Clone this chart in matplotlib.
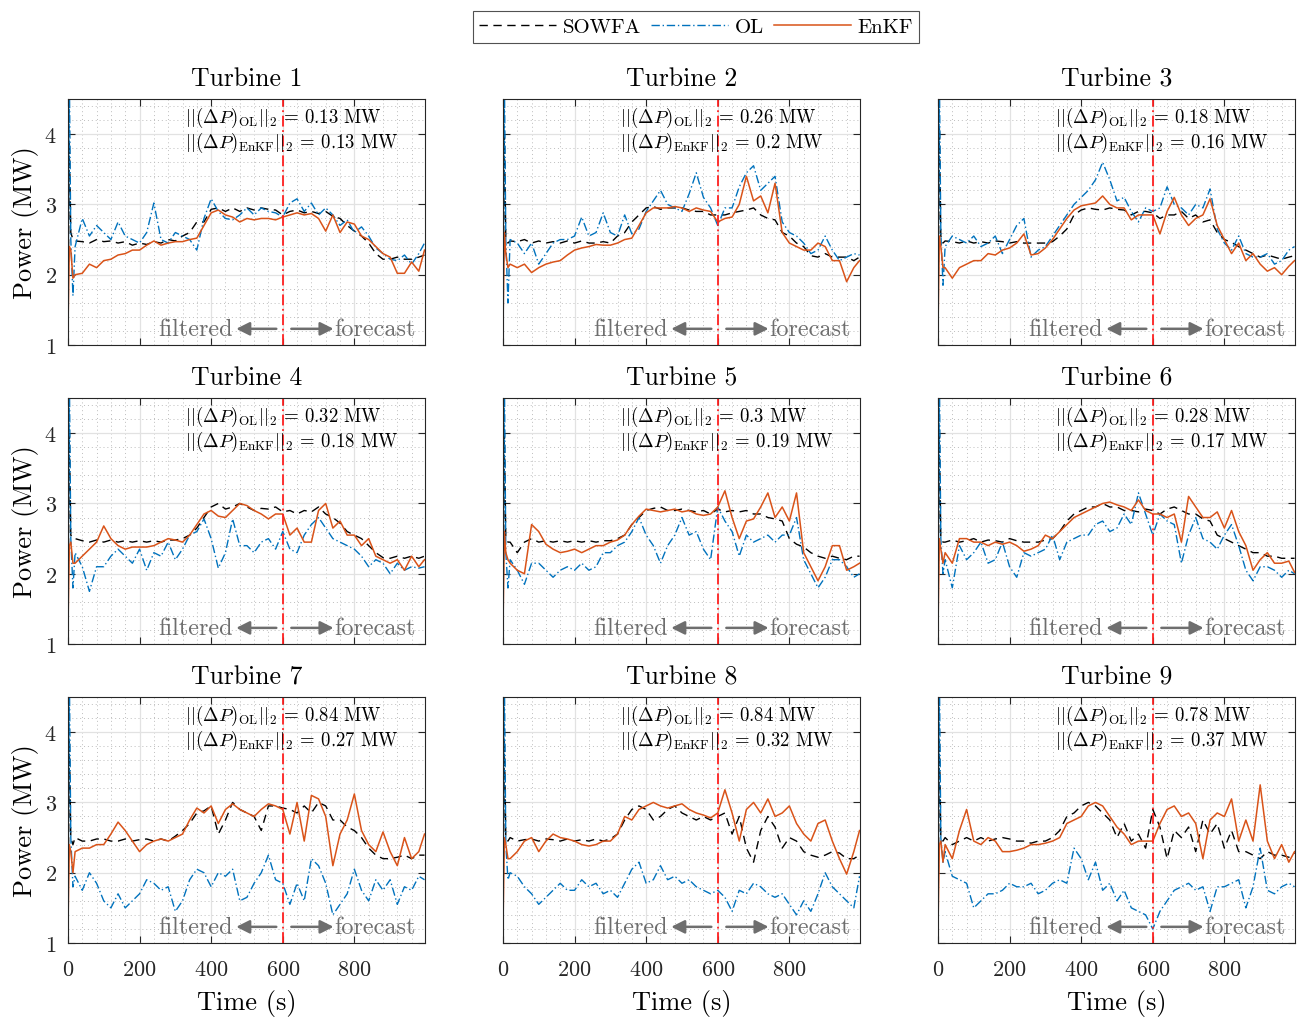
import matplotlib
matplotlib.use("Agg")
import matplotlib.pyplot as plt

plt.rcParams["font.family"] = "serif"
plt.rcParams["font.serif"] = ["cmr10"]
plt.rcParams["mathtext.fontset"] = "cm"
plt.rcParams["axes.formatter.use_mathtext"] = True

# time grid (s)
t = [0, 4, 8, 14,
     20, 40, 60, 80, 100, 120, 140, 160, 180,
     200, 220, 240, 260, 280, 300, 320, 340, 360, 380,
     400, 420, 440, 460, 480, 500, 520, 540, 560, 580,
     600, 620, 640, 660, 680, 700, 720, 740, 760, 780,
     800, 820, 840, 860, 880, 900, 920, 940, 960, 980,
     996]

# ---- Turbine 1
sowfa_1 = [1.2, 3.9, 2.6, 2.5,
           2.48, 2.47, 2.45, 2.5, 2.47, 2.48, 2.45, 2.47, 2.42,
           2.45, 2.43, 2.47, 2.45, 2.5, 2.48, 2.55, 2.6, 2.75, 2.75,
           2.93, 2.95, 2.9, 2.95, 2.9, 2.95, 2.92, 2.95, 2.93, 2.92,
           2.85, 2.9, 2.92, 2.88, 2.9, 2.87, 2.9, 2.83, 2.8, 2.7,
           2.62, 2.55, 2.45, 2.3, 2.22, 2.22, 2.25, 2.22, 2.22, 2.25,
           2.28]
ol_1 = [1.2, 4.8, 2.5, 1.7,
        2.4, 2.8, 2.55, 2.7, 2.6, 2.5, 2.75, 2.55, 2.5,
        2.45, 2.6, 3.02, 2.5, 2.45, 2.6, 2.55, 2.5, 2.35, 2.8,
        3.08, 2.9, 2.8, 2.78, 2.85, 2.95, 2.85, 2.95, 2.9, 2.88,
        2.82, 3.02, 3.08, 2.9, 3.02, 2.85, 2.95, 2.85, 2.7, 2.78,
        2.6, 2.68, 2.55, 2.38, 2.3, 2.22, 2.2, 2.28, 2.15, 2.3,
        2.45]
enkf_1 = [1.2, 2.4, 2.35, 1.95,
          2.0, 2.02, 2.15, 2.1, 2.2, 2.22, 2.28, 2.3, 2.35,
          2.35, 2.42, 2.48, 2.42, 2.45, 2.47, 2.47, 2.5, 2.52, 2.7,
          2.88, 2.92, 2.85, 2.82, 2.75, 2.8, 2.78, 2.8, 2.8, 2.78,
          2.82, 2.85, 2.88, 2.85, 2.87, 2.8, 2.62, 2.85, 2.6, 2.75,
          2.72, 2.55, 2.5, 2.4, 2.3, 2.25, 2.02, 2.02, 2.18, 2.05,
          2.35]

# ---- Turbine 2
sowfa_2 = [1.2, 4.0, 2.5, 2.45,
           2.48, 2.47, 2.5, 2.45, 2.48, 2.45, 2.47, 2.45, 2.48,
           2.45, 2.48, 2.45, 2.45, 2.47, 2.45, 2.55, 2.6, 2.75, 2.85,
           2.95, 2.97, 2.93, 2.95, 2.95, 2.95, 2.92, 2.9, 2.9, 2.85,
           2.85, 2.85, 2.88, 2.9, 2.92, 2.95, 2.85, 2.8, 2.78, 2.6,
           2.55, 2.45, 2.4, 2.27, 2.25, 2.3, 2.25, 2.25, 2.25, 2.2,
           2.25]
ol_2 = [1.2, 4.8, 2.5, 1.6,
        2.5, 2.45, 2.3, 2.45, 2.15, 2.3, 2.45, 2.5, 2.5,
        2.55, 2.82, 2.55, 2.6, 2.88, 2.6, 2.55, 2.85, 2.58, 2.65,
        2.9, 3.05, 3.2, 3.0, 2.95, 2.9, 3.15, 3.45, 3.1, 2.95,
        2.7, 2.95, 2.95, 3.25, 3.45, 3.55, 3.2, 3.3, 3.4, 2.75,
        2.6, 2.55, 2.45, 2.3, 2.35, 2.55, 2.35, 2.2, 2.25, 2.3,
        2.28]
enkf_2 = [1.2, 2.6, 2.3, 2.1,
          2.15, 2.1, 2.15, 2.03, 2.1, 2.15, 2.18, 2.2, 2.28,
          2.35, 2.38, 2.4, 2.43, 2.42, 2.42, 2.45, 2.5, 2.52, 2.7,
          2.88, 2.95, 2.95, 2.95, 2.97, 2.95, 2.9, 2.95, 2.92, 2.9,
          2.75, 2.8, 2.82, 3.0, 3.4, 3.05, 3.12, 2.88, 3.3, 2.6,
          2.45, 2.4, 2.35, 2.35, 2.45, 2.4, 2.2, 2.2, 1.9, 2.1,
          2.2]

# ---- Turbine 3
sowfa_3 = [1.2, 4.1, 2.55, 2.45,
           2.48, 2.47, 2.45, 2.48, 2.45, 2.47, 2.45, 2.48, 2.47,
           2.45, 2.47, 2.45, 2.45, 2.45, 2.45, 2.47, 2.55, 2.65, 2.85,
           2.92, 2.95, 2.93, 2.92, 2.95, 2.93, 2.92, 2.85, 2.9, 2.9,
           2.88, 2.8, 2.85, 2.85, 2.9, 2.8, 2.85, 2.75, 2.78, 2.6,
           2.5, 2.46, 2.4, 2.35, 2.3, 2.25, 2.28, 2.25, 2.22, 2.25,
           2.27]
ol_3 = [1.2, 4.8, 2.6, 1.85,
        2.4, 2.55, 2.5, 2.45, 2.55, 2.4, 2.45, 2.55, 2.3,
        2.5, 2.7, 2.8, 2.25, 2.35, 2.4, 2.55, 2.7, 2.85, 3.0,
        3.1, 3.2, 3.35, 3.6, 3.35, 3.05, 3.1, 2.9, 2.75, 2.95,
        2.9, 2.95, 3.25, 3.0, 2.95, 2.85, 3.0, 2.95, 3.22, 2.65,
        2.45, 2.35, 2.55, 2.3, 2.25, 2.25, 2.3, 2.15, 2.2, 2.35,
        2.4]
enkf_3 = [1.2, 2.55, 2.4, 2.1,
          2.1, 1.95, 2.1, 2.15, 2.2, 2.2, 2.3, 2.28, 2.35,
          2.38, 2.45, 2.58, 2.28, 2.3, 2.38, 2.5, 2.65, 2.8, 2.92,
          2.98, 3.0, 3.02, 3.12, 3.0, 2.95, 2.95, 2.78, 2.85, 2.85,
          2.85, 2.58, 2.9, 3.1, 2.85, 2.7, 2.8, 2.85, 3.08, 2.7,
          2.5, 2.3, 2.45, 2.2, 2.3, 2.15, 2.05, 2.1, 2.0, 2.12,
          2.2]

# ---- Turbine 4
sowfa_4 = [1.2, 4.0, 2.55, 2.5,
           2.5, 2.47, 2.45, 2.48, 2.45, 2.48, 2.45, 2.47, 2.45,
           2.47, 2.45, 2.47, 2.45, 2.48, 2.48, 2.5, 2.55, 2.65, 2.8,
           2.95, 3.0, 2.92, 2.95, 3.0, 2.95, 2.9, 2.93, 2.92, 2.95,
           2.88, 2.9, 2.85, 2.9, 2.88, 2.95, 2.85, 2.8, 2.72, 2.6,
           2.55, 2.5, 2.4, 2.3, 2.23, 2.22, 2.25, 2.22, 2.25, 2.22,
           2.25]
ol_4 = [1.2, 4.8, 2.5, 1.8,
        2.3, 2.1, 1.75, 2.1, 2.1, 2.25, 2.35, 2.25, 2.15,
        2.35, 2.05, 2.3, 2.25, 2.45, 2.2, 2.35, 2.55, 2.6, 2.78,
        2.5, 2.08, 2.3, 2.78, 2.4, 2.4, 2.3, 2.45, 2.5, 2.35,
        2.6, 2.35, 2.3, 2.55, 2.7, 2.8, 2.65, 2.5, 2.45, 2.4,
        2.35, 2.25, 2.1, 2.2, 2.15, 2.0, 2.15, 2.05, 2.1, 2.08,
        2.1]
enkf_4 = [1.2, 2.4, 2.45, 2.15,
          2.15, 2.25, 2.35, 2.45, 2.68, 2.5, 2.4, 2.35, 2.38,
          2.38, 2.38, 2.4, 2.45, 2.5, 2.48, 2.45, 2.55, 2.7, 2.85,
          2.9, 2.82, 2.8, 2.9, 3.0, 2.97, 2.9, 2.85, 2.78, 2.85,
          2.85, 2.55, 2.65, 2.45, 2.45, 2.9, 3.0, 2.65, 2.75, 2.55,
          2.55, 2.4, 2.5, 2.25, 2.2, 2.15, 2.2, 2.05, 2.25, 2.1,
          2.2]

# ---- Turbine 5
sowfa_5 = [1.2, 4.0, 2.5, 2.45,
           2.45, 2.3, 2.45, 2.5, 2.45, 2.47, 2.45, 2.47, 2.45,
           2.47, 2.45, 2.47, 2.45, 2.47, 2.47, 2.5, 2.55, 2.7, 2.8,
           2.9, 2.93, 2.95, 2.9, 2.9, 2.92, 2.9, 2.88, 2.9, 2.85,
           2.92, 2.88, 2.9, 2.88, 2.9, 2.85, 2.85, 2.8, 2.78, 2.75,
           2.5, 2.42, 2.38, 2.3, 2.25, 2.22, 2.25, 2.22, 2.2, 2.25,
           2.25]
ol_5 = [1.2, 4.8, 2.3, 1.8,
        2.2, 2.05, 1.85, 2.15, 2.15, 2.05, 1.95, 2.05, 2.1,
        2.05, 2.15, 2.05, 2.1, 2.3, 2.3, 2.4, 2.45, 2.6, 2.8,
        2.55, 2.4, 2.15, 2.4, 2.55, 2.8, 2.55, 2.6, 2.35, 2.2,
        2.95, 2.75, 2.6, 2.25, 2.55, 2.45, 2.5, 2.55, 2.45, 2.55,
        2.55, 2.8, 2.2, 2.0, 1.8, 1.95, 2.2, 2.2, 2.1, 1.95,
        2.0]
enkf_5 = [1.2, 2.6, 2.3, 2.2,
          2.15, 2.05, 2.0, 2.7, 2.6, 2.42, 2.35, 2.3, 2.32,
          2.35, 2.3, 2.35, 2.4, 2.4, 2.45, 2.48, 2.55, 2.7, 2.82,
          2.92, 2.9, 2.88, 2.9, 2.92, 2.88, 2.9, 2.85, 2.83, 2.85,
          2.95, 3.18, 2.8, 2.5, 2.75, 2.78, 2.95, 3.15, 2.8, 2.95,
          2.75, 3.15, 2.3, 2.1, 1.9, 2.1, 2.4, 2.4, 2.05, 2.1,
          2.15]

# ---- Turbine 6
sowfa_6 = [1.2, 4.0, 2.5, 2.45,
           2.45, 2.48, 2.45, 2.47, 2.5, 2.45, 2.48, 2.47, 2.45,
           2.5, 2.47, 2.45, 2.45, 2.45, 2.48, 2.5, 2.6, 2.75, 2.85,
           2.9, 2.95, 2.95, 3.0, 2.95, 2.95, 2.9, 2.9, 2.88, 2.92,
           2.9, 2.85, 2.92, 2.95, 2.9, 2.85, 2.85, 2.78, 2.75, 2.55,
           2.5, 2.45, 2.4, 2.35, 2.3, 2.3, 2.25, 2.25, 2.22, 2.22,
           2.22]
ol_6 = [1.2, 4.8, 2.5, 2.0,
        2.2, 1.8, 2.4, 2.2, 2.3, 2.45, 2.15, 2.2, 2.45,
        2.1, 1.95, 2.3, 2.25, 2.3, 2.35, 2.55, 2.2, 2.45, 2.5,
        2.55, 2.55, 2.7, 2.75, 2.6, 2.65, 2.85, 2.7, 3.15, 2.85,
        2.55, 2.85, 2.75, 2.7, 2.15, 2.55, 2.8, 2.5, 2.45, 2.35,
        2.55, 2.7, 2.4, 2.05, 1.9, 2.1, 2.1, 2.05, 1.95, 2.05,
        2.0]
enkf_6 = [1.2, 2.5, 2.35, 2.15,
          2.3, 2.15, 2.5, 2.5, 2.45, 2.45, 2.4, 2.45, 2.42,
          2.45, 2.4, 2.32, 2.35, 2.4, 2.55, 2.5, 2.6, 2.7, 2.8,
          2.85, 2.9, 2.95, 3.0, 3.02, 2.98, 2.95, 2.9, 3.05, 2.9,
          2.85, 2.85, 2.8, 2.85, 2.45, 3.1, 2.95, 2.8, 2.8, 2.88,
          2.65, 2.9, 2.6, 2.4, 2.05, 2.2, 2.3, 2.15, 2.15, 2.18,
          2.02]

# ---- Turbine 7
sowfa_7 = [1.2, 3.9, 2.5, 2.4,
           2.5, 2.45, 2.45, 2.48, 2.48, 2.45, 2.45, 2.48, 2.45,
           2.47, 2.48, 2.45, 2.48, 2.45, 2.52, 2.6, 2.7, 2.85, 2.88,
           2.95, 2.55, 2.75, 3.0, 2.9, 2.85, 2.8, 2.6, 2.95, 2.95,
           2.92, 2.9, 2.85, 2.95, 2.85, 3.0, 2.95, 2.75, 2.75, 2.65,
           2.6, 2.5, 2.35, 2.25, 2.2, 2.2, 2.22, 2.25, 2.2, 2.25,
           2.25]
ol_7 = [1.2, 4.8, 2.5, 1.8,
        1.95, 1.75, 2.0, 1.85, 1.6, 1.5, 1.7, 1.5, 1.6,
        1.7, 1.9, 1.85, 1.75, 1.8, 1.45, 1.6, 1.9, 2.05, 2.0,
        1.8, 2.0, 1.95, 2.05, 1.6, 1.65, 1.85, 2.0, 2.25, 1.9,
        1.85, 1.55, 1.85, 1.6, 2.2, 2.1, 1.85, 1.4, 1.55, 1.7,
        2.05, 1.75, 1.6, 1.9, 1.75, 1.9, 1.55, 1.8, 1.75, 1.95,
        1.9]
enkf_7 = [1.2, 2.4, 2.3, 2.0,
          2.3, 2.35, 2.35, 2.4, 2.4, 2.55, 2.72, 2.6, 2.45,
          2.3, 2.4, 2.45, 2.48, 2.45, 2.5, 2.55, 2.75, 2.92, 2.85,
          2.95, 2.7, 2.9, 2.98, 2.9, 2.85, 2.8, 2.9, 2.98, 2.95,
          2.9, 2.55, 3.0, 2.45, 3.1, 3.05, 2.8, 2.1, 2.55, 2.75,
          3.12, 2.6, 2.4, 2.3, 2.58, 2.3, 2.1, 2.5, 2.2, 2.3,
          2.55]

# ---- Turbine 8
sowfa_8 = [1.2, 3.9, 2.5, 2.45,
           2.5, 2.45, 2.47, 2.48, 2.45, 2.48, 2.47, 2.45, 2.48,
           2.45, 2.47, 2.45, 2.48, 2.45, 2.48, 2.55, 2.75, 2.9, 2.95,
           2.9, 2.75, 2.8, 2.9, 2.95, 2.85, 2.8, 2.75, 2.8, 2.75,
           2.8, 2.85, 2.55, 2.8, 2.35, 2.15, 2.6, 2.8, 2.65, 2.35,
           2.5, 2.45, 2.3, 2.25, 2.22, 2.25, 2.3, 2.28, 2.2, 2.2,
           2.25]
ol_8 = [1.2, 4.8, 2.4, 1.9,
        2.0, 1.95, 1.8, 1.7, 1.55, 1.65, 1.75, 1.85, 1.75,
        1.75, 1.9, 1.8, 1.85, 1.7, 1.75, 1.65, 1.85, 2.05, 2.15,
        1.85, 1.9, 2.1, 1.9, 1.95, 1.85, 1.9, 1.8, 1.75, 1.7,
        1.75, 1.65, 1.45, 1.75, 1.7, 1.85, 1.8, 1.7, 1.65, 1.7,
        1.55, 1.4, 1.6, 1.45, 1.7, 2.0, 1.8, 1.7, 1.6, 1.5,
        1.95]
enkf_8 = [1.2, 2.5, 2.4, 2.2,
          2.2, 2.3, 2.45, 2.5, 2.3, 2.45, 2.55, 2.5, 2.48,
          2.45, 2.4, 2.38, 2.4, 2.45, 2.45, 2.55, 2.8, 2.75, 2.9,
          2.95, 3.0, 2.95, 2.92, 2.95, 2.98, 2.9, 2.85, 2.82, 2.78,
          2.85, 3.18, 2.85, 2.45, 2.9, 3.0, 2.85, 3.05, 2.8, 2.85,
          2.95, 2.7, 2.55, 2.45, 2.7, 2.75, 2.45, 2.2, 1.98, 2.3,
          2.6]

# ---- Turbine 9
sowfa_9 = [1.2, 3.9, 2.5, 2.45,
           2.5, 2.4, 2.45, 2.5, 2.45, 2.5, 2.45, 2.48, 2.5,
           2.48, 2.45, 2.45, 2.42, 2.45, 2.45, 2.5, 2.6, 2.8, 2.85,
           2.95, 3.0, 2.95, 2.85, 2.75, 2.5, 2.7, 2.45, 2.55, 2.35,
           2.9, 2.65, 2.2, 2.6, 2.5, 2.65, 2.3, 2.75, 2.55, 2.7,
           2.35, 2.6, 2.3, 2.3, 2.25, 2.2, 2.3, 2.25, 2.25, 2.22,
           2.28]
ol_9 = [1.2, 4.8, 2.5, 2.15,
        2.3, 1.95, 1.9, 1.85, 1.5, 1.6, 1.7, 1.7, 1.75,
        1.85, 1.8, 1.8, 1.85, 1.7, 1.75, 1.85, 1.9, 1.85, 2.35,
        2.2, 1.9, 2.15, 1.75, 1.85, 1.6, 1.75, 1.5, 1.45, 1.4,
        1.2, 1.45, 1.6, 1.75, 1.8, 1.85, 1.75, 1.8, 1.45, 1.8,
        1.8, 1.85, 1.9, 1.5, 1.8, 2.35, 1.75, 1.7, 1.8, 1.85,
        1.8]
enkf_9 = [1.2, 2.4, 2.45, 2.15,
          2.4, 2.2, 2.6, 2.9, 2.45, 2.4, 2.5, 2.45, 2.3,
          2.3, 2.32, 2.35, 2.4, 2.4, 2.42, 2.45, 2.5, 2.7, 2.75,
          2.8, 2.95, 3.0, 2.95, 2.8, 2.65, 2.55, 2.4, 2.45, 2.45,
          2.45, 2.7, 2.9, 2.95, 2.8, 2.85, 2.7, 2.2, 2.75, 2.85,
          2.8, 3.05, 2.45, 2.75, 2.45, 3.25, 2.45, 2.2, 2.4, 2.15,
          2.3]

ol_norm = ["0.13", "0.26", "0.18", "0.32", "0.3", "0.28", "0.84", "0.84", "0.78"]
enkf_norm = ["0.13", "0.2", "0.16", "0.18", "0.19", "0.17", "0.27", "0.32", "0.37"]

sowfa_all = [sowfa_1, sowfa_2, sowfa_3, sowfa_4, sowfa_5, sowfa_6, sowfa_7, sowfa_8, sowfa_9]
ol_all = [ol_1, ol_2, ol_3, ol_4, ol_5, ol_6, ol_7, ol_8, ol_9]
enkf_all = [enkf_1, enkf_2, enkf_3, enkf_4, enkf_5, enkf_6, enkf_7, enkf_8, enkf_9]

t_switch = 600
C_OL = "#0072BD"
C_ENKF = "#D95319"
C_TXT = "#6E6E6E"

fig = plt.figure(figsize=(13.04, 10.2), dpi=100)

lefts = [0.0521, 0.3857, 0.7193]
bottoms = [0.6608, 0.3676, 0.0745]
w, h = 0.2740, 0.2412

for i in range(9):
    r, c = divmod(i, 3)
    ax = fig.add_axes([lefts[c], bottoms[r], w, h])
    l1, = ax.plot(t, sowfa_all[i], color="k", ls=(0, (6, 4)), lw=1.0)
    l2, = ax.plot(t, ol_all[i], color=C_OL, ls=(0, (6, 2, 1, 2)), lw=1.0)
    l3, = ax.plot(t, enkf_all[i], color=C_ENKF, ls="-", lw=1.1)
    ax.axvline(t_switch, color="#FF2020", ls=(0, (6, 2, 1, 2)), lw=1.3)

    ax.set_xlim(0, 998)
    ax.set_ylim(1, 4.5)
    ax.set_xticks([0, 200, 400, 600, 800])
    ax.set_yticks([1, 2, 3, 4])
    ax.set_xticks(range(0, 1000, 40), minor=True)
    ax.set_yticks([1 + 0.2 * k for k in range(18)], minor=True)
    ax.grid(which="major", color="#E2E2E2", lw=0.9, ls="-")
    ax.grid(which="minor", color="#BDBDBD", lw=0.7, ls=(0, (1, 3)))
    ax.set_axisbelow(True)
    ax.tick_params(which="both", direction="in", top=True, right=True,
                   labelsize=16, colors="#262626")
    ax.tick_params(which="major", length=5)
    ax.tick_params(which="minor", length=0)
    ax.tick_params(axis="x", pad=12)
    ax.tick_params(axis="y", pad=8)
    for s in ax.spines.values():
        s.set_color("#262626")
        s.set_linewidth(0.8)

    if c != 0:
        ax.set_yticklabels([])
    else:
        ax.set_ylabel("Power (MW)", fontsize=19, labelpad=4)
    if r != 2:
        ax.set_xticklabels([])
    else:
        ax.set_xlabel("Time (s)", fontsize=19, labelpad=7)

    ax.set_title("Turbine %d" % (i + 1), fontsize=18.5, pad=10)

    ax.text(327, 4.25, r"$||(\Delta P)_{\mathrm{OL}}||_2$" + " = " + ol_norm[i] + " MW",
            fontsize=13.5, va="center", ha="left")
    ax.text(327, 3.89, r"$||(\Delta P)_{\mathrm{EnKF}}||_2$" + " = " + enkf_norm[i] + " MW",
            fontsize=13.5, va="center", ha="left")

    # filtered / forecast markers
    ax.text(459, 1.23, "filtered", fontsize=17.5, color=C_TXT, ha="right", va="center")
    ax.annotate("", xy=(470, 1.23), xytext=(582, 1.23),
                arrowprops=dict(arrowstyle="-|>", color=C_TXT, lw=1.8,
                                mutation_scale=20, shrinkA=0, shrinkB=0))
    ax.annotate("", xy=(742, 1.23), xytext=(624, 1.23),
                arrowprops=dict(arrowstyle="-|>", color=C_TXT, lw=1.8,
                                mutation_scale=20, shrinkA=0, shrinkB=0))
    ax.text(744, 1.23, "forecast", fontsize=17.5, color=C_TXT, ha="left", va="center")

leg = fig.legend([l1, l2, l3], ["SOWFA", "OL", "EnKF"], loc="upper center",
                 bbox_to_anchor=(0.5337, 0.998), ncol=3, fontsize=15,
                 frameon=True, fancybox=False, edgecolor="#262626",
                 handlelength=3.7, handletextpad=0.3, columnspacing=0.5,
                 borderpad=0.3)
leg.get_frame().set_linewidth(0.8)

fig.savefig("out.png", dpi=100)
